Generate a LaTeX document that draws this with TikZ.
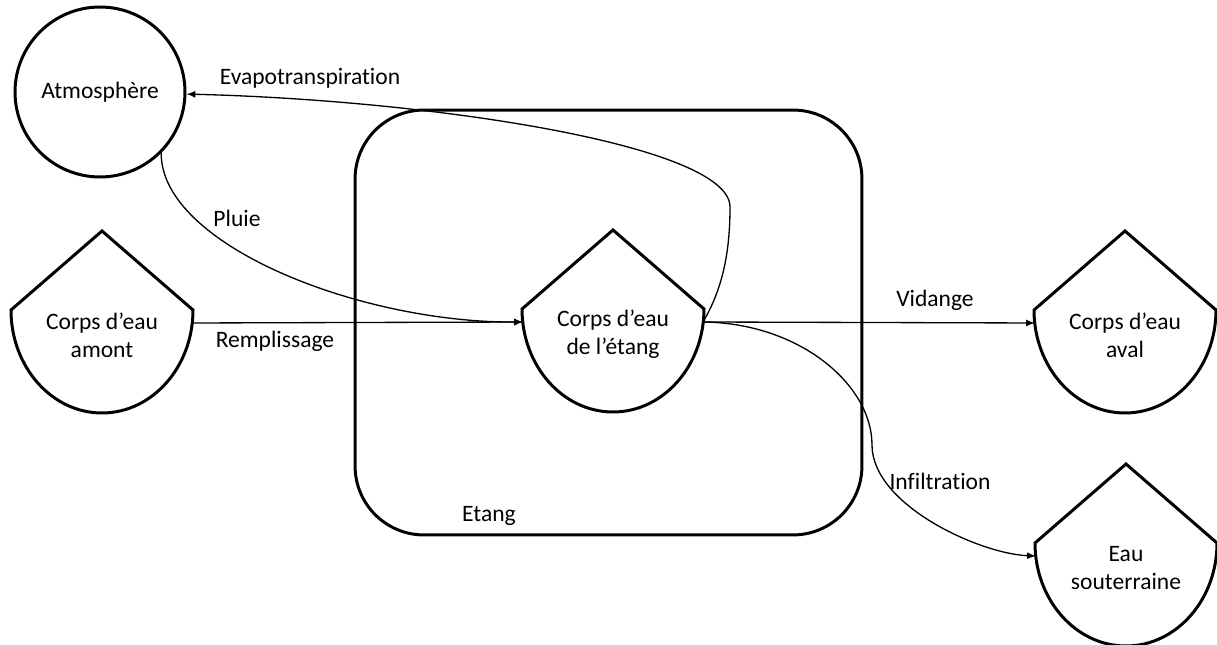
\documentclass[tikz,border=0pt]{standalone}
\usepackage{fontspec}
\setmainfont{Carlito}[Ligatures=NoCommon]
\usepackage{tikz}
\usetikzlibrary{arrows}

\tikzset{
  corps/.style={line width=1.7pt,line join=miter},
  flux/.style={line width=0.75pt,->,>=latex},
  etiq/.style={inner sep=0pt,font=\fontsize{13.4}{16}\selectfont},
}

\begin{document}
\begin{tikzpicture}[x=0.02cm,y=0.02cm]
		\useasboundingbox (0,0) rectangle (1217,645);
		% l'etang
		\node[draw,line width=1.7pt,rounded corners=1.38cm,minimum width=10.14cm,minimum height=8.5cm] (etang) at (608.5,322.5) {};
		\node[etiq] (etanglbl) at (489,129) {Etang};
		% les corps d'eau
		\foreach \Xc/\Yc/\Nom/\Texto in 
		{102/335/amont/{Corps d’eau\\amont},613/336/eau/{Corps d’eau\\de l’étang},1125/335/aval/{Corps d’eau\\aval},1126/102/souterr/{Eau\\souterraine}}
		{
			\draw[corps] 
			(\Xc-91,\Yc) -- (\Xc,\Yc+79) -- (\Xc+91,\Yc) 
			arc[start angle=0,end angle=-180,x radius=91,y radius=103] -- cycle;
			\node[etiq,align=center] (\Nom) at (\Xc,\Yc-25) {\Texto};
			\coordinate (\Nom-w) at (\Xc-90,\Yc-13);
			\coordinate (\Nom-e) at (\Xc+90,\Yc-13);
		}
		\node[draw,circle,line width=1.7pt,minimum size=3.4cm,etiq] (atm) at (100,553) {Atmosphère};
		% les flux
		\draw[flux] (amont-e) -- (eau-w);
		\draw[flux] (eau-e) -- (aval-w);
		\draw[flux] (atm.-45) .. controls (161,400) and (360,322) .. (eau-w);
		\draw[flux] (eau-e) .. controls (725,360) and (730,400) .. (730,438) 
			.. controls (730,500) and (430,545) .. (atm);
		\draw[flux] (eau-e) .. controls (800,322) and (872,260) .. (872,200) 
			.. controls (872,140) and (980,91) .. (souterr-w);
		\node[etiq] (evap) at (310,567) {Evapotranspiration};
		\node[etiq] (pluie) at (237,427) {Pluie};
		\node[etiq] (rempl) at (275,304) {Remplissage};
		\node[etiq] (vid) at (935,345) {Vidange};
		\node[etiq] (infil) at (940,164) {Infiltration};
\end{tikzpicture}
\end{document}
